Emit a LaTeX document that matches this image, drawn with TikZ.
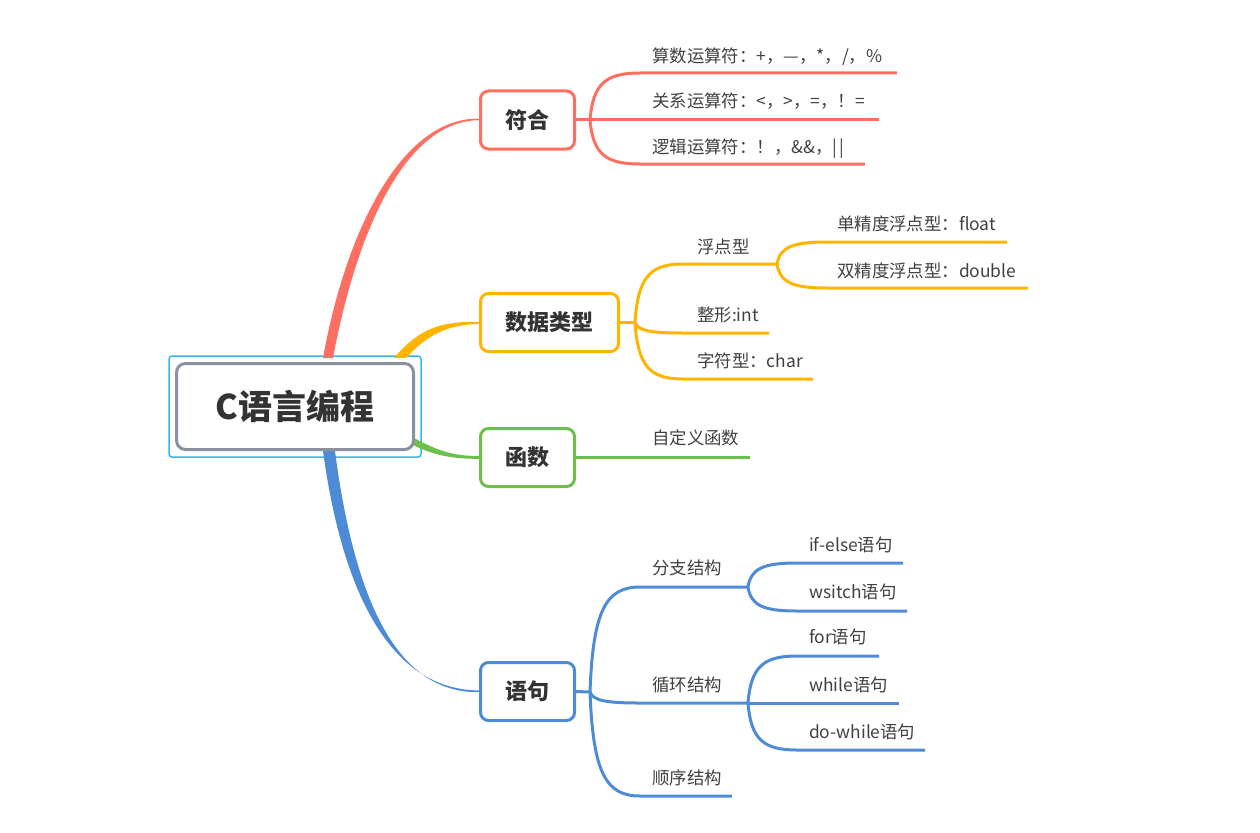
\documentclass[tikz,border=0pt]{standalone}
\usepackage{fontspec}
\setmainfont{Noto Sans CJK SC}
\usetikzlibrary{calc}
\definecolor{cred}{RGB}{255,111,97}
\definecolor{corange}{RGB}{255,180,0}
\definecolor{cgreen}{RGB}{108,192,74}
\definecolor{cblue}{RGB}{77,139,214}
\definecolor{cgray}{RGB}{138,146,160}
\definecolor{csel}{RGB}{51,181,240}
\definecolor{tdark}{RGB}{51,51,51}
\definecolor{tgray}{RGB}{64,64,64}
\begin{document}
\begin{tikzpicture}[x=1pt,y=-1pt,
  mainbox/.style={draw, line width=3pt, rounded corners=8pt, fill=white, inner sep=0pt,
    minimum height=58pt, font=\fontsize{22}{22}\selectfont\bfseries, text=tdark},
  leaf/.style={anchor=base west, inner sep=0pt, font=\fontsize{17.4}{17.4}\selectfont, text=tgray},
  br/.style={line width=3pt},
  fork/.style={to path={let \p1=(\tikztostart), \p2=(\tikztotarget) in
     .. controls (\x1+0.06*\x2-0.06*\x1, \y1+0.78*\y2-0.78*\y1) and (\x1+0.32*\x2-0.32*\x1, \y2) .. (\tikztotarget)}}
]
\useasboundingbox (0,0) rectangle (1260,832);

% selection frame
\draw[csel, line width=1.5pt, rounded corners=3pt] (169,356) rectangle (421,457);

% tapered main connectors
\fill[cred] (323,358) .. controls (345,235) and (400,117.5) .. (479,118.6) -- (479,120.2) .. controls (402,121) and (355,240) .. (333,358) -- cycle;
\fill[corange] (394,358) .. controls (420,328) and (440,321.5) .. (479,321.8) -- (479,323.8) .. controls (448,325) and (428,334) .. (406,358) -- cycle;
\fill[cgreen] (414,438) .. controls (440,452) and (455,456) .. (479,456) -- (479,458.8) .. controls (455,459) and (435,456) .. (413,445) -- cycle;
\fill[cblue] (323,451) .. controls (345,612) and (400,690) .. (479,690.4) -- (479,692.2) .. controls (402,693) and (356,612) .. (335,451) -- cycle;

% root
\node[draw=cgray, line width=3pt, rounded corners=9pt, fill=white, inner sep=0pt,
  minimum width=237pt, minimum height=86pt, font=\fontsize{34}{34}\selectfont\bfseries, text=tdark]
  (root) at (295,406.5) {C语言编程};

% main nodes
\node[mainbox, draw=cred, minimum width=94pt] (s1) at (527.5,120) {符合};
\node[mainbox, draw=corange, minimum width=138pt] (s2) at (549.5,322.5) {数据类型};
\node[mainbox, draw=cgreen, minimum width=94pt] (s3) at (527.5,457.5) {函数};
\node[mainbox, draw=cblue, minimum width=94pt] (s4) at (527.5,691.5) {语句};

% ---------- 符合 ----------
\coordinate (f1) at (590,120);
\coordinate (a1) at (640,73);  \coordinate (a1e) at (897,73);
\coordinate (a2e) at (879,120);
\coordinate (a3) at (640,164); \coordinate (a3e) at (865,164);
\draw[br,cred] (s1.east) -- (f1);
\draw[br,cred] (f1) to[fork] (a1) -- (a1e);
\draw[br,cred] (f1) -- (a2e);
\draw[br,cred] (f1) to[fork] (a3) -- (a3e);
\node[leaf] (ta1) at (652,62.5) {算数运算符：+，—，*，/，\%};
\node[leaf] (ta2) at (652,107.5) {关系运算符：<，>，=，！=};
\node[leaf] (ta3) at (652,153.5) {逻辑运算符：！，\&\&，|\hspace{2.5pt}|};

% ---------- 数据类型 ----------
\coordinate (f2) at (635,322.5);
\coordinate (b1) at (683,264); \coordinate (b1e) at (777,264);
\coordinate (b11) at (827,242); \coordinate (b11e) at (1007,242);
\coordinate (b12) at (827,288); \coordinate (b12e) at (1028,288);
\coordinate (b2) at (683,333); \coordinate (b2e) at (769,333);
\coordinate (b3) at (683,379); \coordinate (b3e) at (813,379);
\draw[br,corange] (s2.east) -- (f2);
\draw[br,corange] (f2) to[fork] (b1) -- (b1e);
\draw[br,corange] (b1e) to[fork] (b11) -- (b11e);
\draw[br,corange] (b1e) to[fork] (b12) -- (b12e);
\draw[br,corange] (f2) to[fork] (b2) -- (b2e);
\draw[br,corange] (f2) to[fork] (b3) -- (b3e);
\node[leaf] (tb1) at (697,253.5) {浮点型};
\node[leaf] (tb11) at (837,230.5) {单精度浮点型：float};
\node[leaf] (tb12) at (837,277.5) {双精度浮点型：double};
\node[leaf] (tb2) at (697,321.5) {整形:int};
\node[leaf] (tb3) at (697,367.5) {字符型：char};

% ---------- 函数 ----------
\coordinate (c1e) at (750,457.5);
\draw[br,cgreen] (s3.east) -- (c1e);
\node[leaf] (tc1) at (652,444.5) {自定义函数};

% ---------- 语句 ----------
\coordinate (f4) at (590,692);
\coordinate (d1) at (640,587); \coordinate (d1e) at (748,587);
\coordinate (d11) at (797,563); \coordinate (d11e) at (903,563);
\coordinate (d12) at (797,611); \coordinate (d12e) at (907,611);
\coordinate (d2) at (640,703); \coordinate (d2e) at (748,703);
\coordinate (d21) at (797,656); \coordinate (d21e) at (879,656);
\coordinate (d22e) at (899,703);
\coordinate (d23) at (797,750); \coordinate (d23e) at (925,750);
\coordinate (d3) at (640,796); \coordinate (d3e) at (732,796);
\draw[br,cblue] (s4.east) -- (f4);
\draw[br,cblue] (f4) to[fork] (d1) -- (d1e);
\draw[br,cblue] (d1e) to[fork] (d11) -- (d11e);
\draw[br,cblue] (d1e) to[fork] (d12) -- (d12e);
\draw[br,cblue] (f4) to[fork] (d2) -- (d2e);
\draw[br,cblue] (d2e) to[fork] (d21) -- (d21e);
\draw[br,cblue] (d2e) -- (d22e);
\draw[br,cblue] (d2e) to[fork] (d23) -- (d23e);
\draw[br,cblue] (f4) to[fork] (d3) -- (d3e);
\node[leaf] (td1) at (652,574.5) {分支结构};
\node[leaf] (td11) at (809,551.5) {if-else语句};
\node[leaf] (td12) at (809,598.5) {wsitch语句};
\node[leaf] (td2) at (652,691.5) {循环结构};
\node[leaf] (td21) at (809,643.5) {for语句};
\node[leaf] (td22) at (809,691.5) {while语句};
\node[leaf] (td23) at (809,738.5) {do-while语句};
\node[leaf] (td3) at (652,784.5) {顺序结构};
\end{tikzpicture}
\end{document}
